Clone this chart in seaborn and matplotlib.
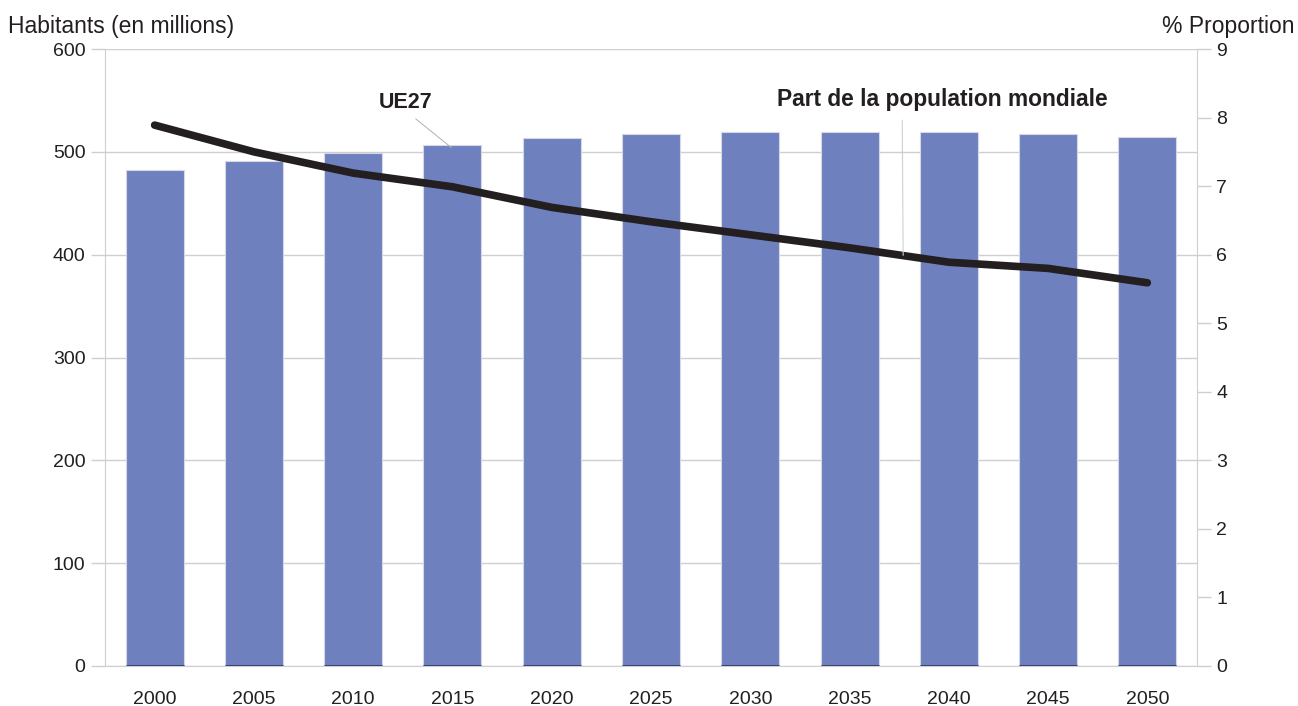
import matplotlib
matplotlib.use('Agg')
import matplotlib.pyplot as plt
import numpy as np
import pandas as pd
import seaborn as sns

years = ['2000', '2005', '2010', '2015', '2020', '2025', '2030', '2035', '2040', '2045', '2050']
population = [482, 491, 499, 507, 513, 517, 519, 519.5, 519, 517, 514.5]
world_share = [7.89, 7.5, 7.19, 6.99, 6.69, 6.48, 6.29, 6.1, 5.89, 5.8, 5.59]

sns.set_style('white')
plt.rcParams['font.family'] = ['Liberation Sans', 'DejaVu Sans']

df = pd.DataFrame({'year': years, 'pop': population, 'share': world_share})
df['pos'] = np.arange(len(df))

grey = '#cfcfcf'
text_col = '#231f20'

fig = plt.figure(figsize=(12.98, 7.06), dpi=100)
ax = fig.add_axes([105 / 1298, 40 / 706, 1092 / 1298, 617 / 706])

sns.barplot(data=df, x='year', y='pop', color='#6f80bf', saturation=1, width=0.585,
            edgecolor='#d4d8e8', linewidth=0.8, ax=ax)
# darker base of each bar
for p in ax.patches:
    ax.hlines(0, p.get_x(), p.get_x() + p.get_width(), color='#3b4577', lw=2.2, zorder=3)

ax.set_xlim(-0.5, 10.5)
ax.set_ylim(0, 600)
ax.set_yticks(range(0, 601, 100))
ax.yaxis.grid(True, color=grey, lw=1)
ax.set_axisbelow(True)
ax.set(xlabel='', ylabel='')
for s in ax.spines.values():
    s.set_color(grey)
ax.spines['top'].set_visible(False)
ax.tick_params(axis='y', length=10, width=1, color=grey, pad=4, labelsize=14, labelcolor=text_col)
ax.tick_params(axis='x', length=10, width=1, color=grey, pad=8, labelsize=14, labelcolor=text_col)

ax2 = ax.twinx()
sns.lineplot(data=df, x='pos', y='share', color='#231f20', lw=5.5, ax=ax2,
             solid_capstyle='round')
ax2.set_ylim(0, 9)
ax2.set_yticks(range(0, 10))
ax2.set(xlabel='', ylabel='')
ax2.set_xlim(-0.5, 10.5)
for s in ax2.spines.values():
    s.set_visible(False)
ax2.tick_params(axis='y', length=10, width=1, color=grey, pad=4, labelsize=14, labelcolor=text_col)

# annotations
ax.annotate('UE27', xy=(2.99, 504), xytext=(2.53, 548), ha='center', va='center',
            fontsize=15.5, fontweight='bold', color=text_col,
            arrowprops=dict(arrowstyle='-', color='#b0b0b0', lw=0.7, shrinkA=3, shrinkB=0,
                            relpos=(0.55, 0)))
ax2.annotate('Part de la population mondiale', xy=(7.54, 5.99), xytext=(7.93, 8.26),
             ha='center', va='center', fontsize=16.4, fontweight='bold', color=text_col,
             arrowprops=dict(arrowstyle='-', color='#d0d0d0', lw=0.8, shrinkA=4, shrinkB=0,
                             relpos=(0.38, 0)))

fig.text(8 / 1298, 1 - 26 / 706, 'Habitants (en millions)', ha='left', va='center',
         fontsize=16.5, color=text_col)
fig.text(1294 / 1298, 1 - 26 / 706, '% Proportion', ha='right', va='center',
         fontsize=16.5, color=text_col)
# title cut off by the top edge
fig.text(314 / 1298, 1 + 8 / 706, 'Évolution de la population', ha='left', va='baseline',
         fontsize=22, fontweight='bold', color=text_col)

fig.savefig('out.png', dpi=100)
